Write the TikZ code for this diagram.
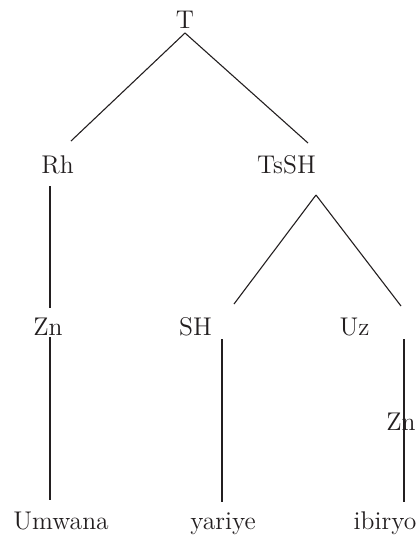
\documentclass[tikz,border=0pt]{standalone}
\usepackage{tikz}
\definecolor{ink}{HTML}{231F20}
\begin{document}
\begin{tikzpicture}[x=0.5pt, y=-0.5pt,
  label/.style={anchor=base, inner sep=0pt, text=ink, font=\fontsize{12.8}{15}\selectfont},
  branch/.style={draw=ink, line width=0.55pt}]
\useasboundingbox (0,0) rectangle (419,536);

% Labels
\node[label] (T) at (185,28) {T};
\node[label] (Rh) at (57.5,173) {Rh};
\node[label] (TsSH) at (286.5,173) {TsSH};
\node[label] (ZnL) at (48,335) {Zn};
\node[label] (SH) at (195.5,335) {SH};
\node[label] (Uz) at (354.5,335) {Uz};
\node[label] (ZnR) at (401,430) {Zn};
\node[label] (Umwana) at (61,529) {Umwana};
\node[label] (yariye) at (223,529) {yariye};
\node[label] (ibiryo) at (385,529) {ibiryo};

% Branch ends
\coordinate (T-root) at (185,33);
\coordinate (Rh-top) at (71,141);
\coordinate (TsSH-top) at (308,143);
\coordinate (Rh-foot) at (50,186);
\coordinate (ZnL-top) at (50,308);
\coordinate (ZnL-foot) at (50,337);
\coordinate (Umwana-top) at (50,500);
\coordinate (TsSH-root) at (316,195);
\coordinate (SH-top) at (234,304);
\coordinate (Uz-top) at (401,306);
\coordinate (SH-foot) at (222,339);
\coordinate (yariye-top) at (222,502);
\coordinate (Uz-foot) at (404,339);
\coordinate (ibiryo-top) at (404,502);

% Branches
\draw[branch] (T-root) -- (Rh-top);
\draw[branch] (T-root) -- (TsSH-top);
\draw[branch] (Rh-foot) -- (ZnL-top);
\draw[branch] (ZnL-foot) -- (Umwana-top);
\draw[branch] (TsSH-root) -- (SH-top);
\draw[branch] (TsSH-root) -- (Uz-top);
\draw[branch] (SH-foot) -- (yariye-top);
\draw[branch] (Uz-foot) -- (ibiryo-top);
\end{tikzpicture}
\end{document}
